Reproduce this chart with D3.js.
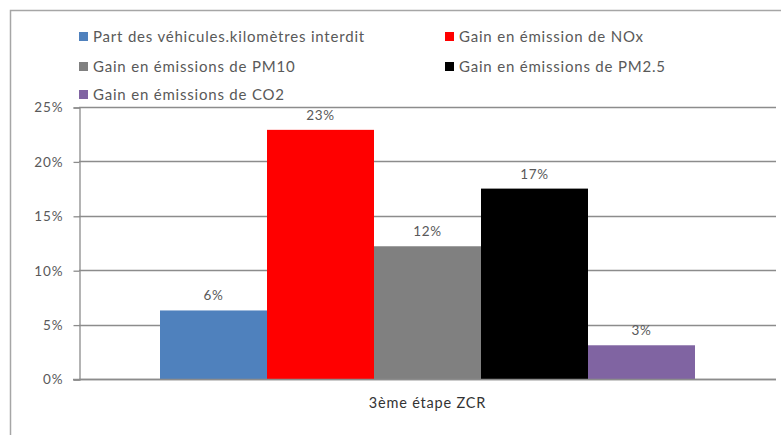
<!DOCTYPE html>
<html>
<head>
<meta charset="utf-8">
<script src="https://cdn.jsdelivr.net/npm/d3@7"></script>
<style>
  body { margin: 0; background: #fff; }
  svg text { font-family: Lato, "Liberation Sans", sans-serif; }
</style>
</head>
<body>
<div id="chart"></div>
<script>
// chart data
const category = ['3ème étape ZCR'];
const seriesNames = [
  'Part des véhicules.kilomètres interdit',
  'Gain en émission de NOx',
  'Gain en émissions de PM10',
  'Gain en émissions de PM2.5',
  'Gain en émissions de CO2'
];
const seriesValues = [0.063, 0.229, 0.122, 0.175, 0.031];
const seriesLabels = ['6%', '23%', '12%', '17%', '3%'];
const seriesColors = ['#4f81bd', '#ff0000', '#808080', '#000000', '#8064a2'];
const yTicks = [0, 0.05, 0.10, 0.15, 0.20, 0.25];

const width = 781;
const height = 435;
const plot = { left: 79, right: 776, top: 107, bottom: 379 };

const svg = d3.select('#chart')
  .append('svg')
  .attr('width', width)
  .attr('height', height);

// outer chart-area border (runs off the picture on right and bottom)
svg.append('path')
  .attr('d', `M10.5,${height + 2}V10.5H${width + 2}`)
  .attr('fill', 'none')
  .attr('stroke', '#a6a6a6')
  .attr('stroke-width', 1.5);

const y = d3.scaleLinear()
  .domain([0, 0.25])
  .range([plot.bottom, plot.top]);

const x = d3.scaleBand()
  .domain(category)
  .range([plot.left, plot.right])
  .paddingInner(0)
  .paddingOuter(0.1514);

const xs = d3.scaleBand()
  .domain(seriesNames)
  .range([0, x.bandwidth()]);

// gridlines
svg.append('g')
  .selectAll('line')
  .data(yTicks)
  .enter()
  .append('line')
  .attr('x1', plot.left)
  .attr('x2', plot.right)
  .attr('y1', d => Math.round(y(d)) + 0.5)
  .attr('y2', d => Math.round(y(d)) + 0.5)
  .attr('stroke', '#8c8c8c')
  .attr('stroke-width', 1.3);

// y axis
const yAxis = svg.append('g')
  .attr('transform', `translate(${plot.left + 0.5},0.5)`)
  .call(d3.axisLeft(y)
    .tickValues(yTicks)
    .tickFormat(d3.format('.0%'))
    .tickSize(6)
    .tickPadding(10));
yAxis.select('.domain').attr('stroke', '#8c8c8c').attr('stroke-width', 1.3);
yAxis.selectAll('.tick line').attr('stroke', '#8c8c8c').attr('stroke-width', 1.3);
yAxis.selectAll('.tick text')
  .attr('fill', '#595959')
  .style('font-size', '13.5px')
  .style('letter-spacing', '0.9px');

// bars
const group = svg.append('g')
  .attr('transform', `translate(${x(category[0])},0)`);

group.selectAll('rect')
  .data(seriesValues)
  .enter()
  .append('rect')
  .attr('x', (d, i) => xs(seriesNames[i]))
  .attr('y', d => y(d))
  .attr('width', xs.bandwidth())
  .attr('height', d => y(0) - y(d))
  .attr('fill', (d, i) => seriesColors[i]);

group.selectAll('.value-label')
  .data(seriesValues)
  .enter()
  .append('text')
  .attr('class', 'value-label')
  .attr('text-anchor', 'middle')
  .attr('x', (d, i) => xs(seriesNames[i]) + xs.bandwidth() / 2)
  .attr('y', d => y(d) - 10)
  .attr('fill', '#595959')
  .style('font-size', '13.5px')
  .style('letter-spacing', '0.6px')
  .text((d, i) => seriesLabels[i]);

// zero line on top
svg.append('line')
  .attr('x1', plot.left - 6)
  .attr('x2', plot.right)
  .attr('y1', Math.round(y(0)) + 0.5)
  .attr('y2', Math.round(y(0)) + 0.5)
  .attr('stroke', '#8c8c8c')
  .attr('stroke-width', 1.3);

// category label
svg.append('text')
  .attr('x', x(category[0]) + x.bandwidth() / 2)
  .attr('y', 408)
  .attr('text-anchor', 'middle')
  .attr('fill', '#333333')
  .style('font-size', '14.5px')
  .style('letter-spacing', '0.8px')
  .text(category[0]);

// legend
const legendCols = [79, 445];
const legendRows = [37, 67, 95];
const legend = svg.append('g')
  .selectAll('g')
  .data(seriesNames)
  .enter()
  .append('g')
  .attr('transform', (d, i) => `translate(${legendCols[i % 2]},${legendRows[Math.floor(i / 2)]})`);

legend.append('rect')
  .attr('x', 0)
  .attr('y', -5)
  .attr('width', 9)
  .attr('height', 9)
  .attr('fill', (d, i) => seriesColors[i]);

legend.append('text')
  .attr('x', 14)
  .attr('y', 5)
  .attr('fill', '#595959')
  .style('font-size', '15px')
  .style('letter-spacing', '0.8px')
  .text(d => d);
</script>
</body>
</html>
